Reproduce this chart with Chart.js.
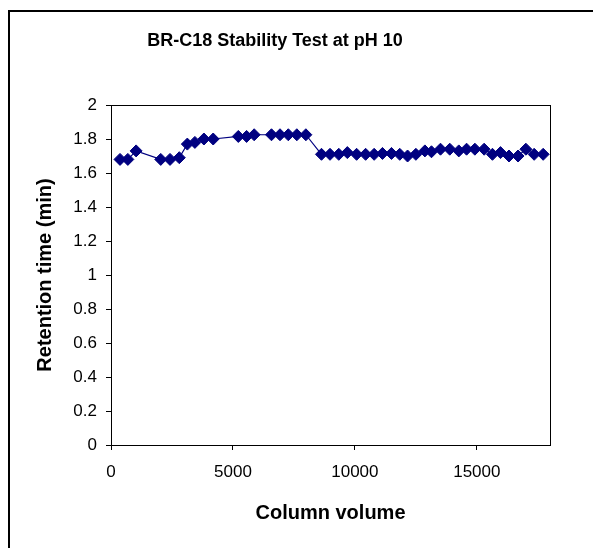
<!DOCTYPE html>
<html><head><meta charset="utf-8">
<script src="https://cdn.jsdelivr.net/npm/chart.js@4/dist/chart.umd.min.js"></script>
<style>html,body{margin:0;padding:0;background:#fff}#wrap{width:593px;height:548px;position:relative}</style>
</head><body><div id="wrap"><canvas id="c" width="593" height="548"></canvas></div>
<script>
const chartTitle = 'BR-C18 Stability Test at pH 10';
const xTitle = 'Column volume';
const yTitle = 'Retention time (min)';
const columnVolume = [370, 690, 1030, 2040, 2420, 2800, 3130, 3440, 3810, 4190,
  5220, 5560, 5870, 6580, 6930, 7270, 7620, 7990,
  8630, 8980, 9340, 9690, 10070, 10440, 10790, 11130, 11500, 11840, 12160, 12500, 12870,
  13140, 13510, 13890, 14260, 14580, 14920, 15300, 15640, 15970, 16320, 16690, 17010, 17350, 17720];
const retentionTime = [1.68, 1.68, 1.73, 1.68, 1.68, 1.69, 1.77, 1.78, 1.80, 1.80,
  1.815, 1.815, 1.825, 1.825, 1.825, 1.825, 1.825, 1.825,
  1.71, 1.71, 1.71, 1.72, 1.71, 1.71, 1.71, 1.715, 1.715, 1.71, 1.70, 1.71, 1.73,
  1.725, 1.74, 1.74, 1.73, 1.74, 1.74, 1.74, 1.71, 1.72, 1.70, 1.70, 1.74, 1.71, 1.71];
const xTicks = [0, 5000, 10000, 15000];
const yTicks = [0, 0.2, 0.4, 0.6, 0.8, 1, 1.2, 1.4, 1.6, 1.8, 2];

const points = columnVolume.map((v, i) => ({x: v, y: retentionTime[i]}));
const FONT = '"Liberation Sans", Arial, sans-serif';

const framePlugin = {
  id: 'frame',
  afterDraw(chart) {
    const ctx = chart.ctx, a = chart.chartArea;
    ctx.save();
    ctx.strokeStyle = '#000';
    ctx.lineWidth = 1;
    ctx.strokeRect(Math.round(a.left) + 0.5, Math.round(a.top) + 0.5, Math.round(a.right - a.left), Math.round(a.bottom - a.top));
    ctx.lineWidth = 2;
    ctx.strokeRect(9, 11, 700, 700);
    ctx.restore();
  }
};

new Chart(document.getElementById('c'), {
  type: 'scatter',
  data: {
    datasets: [{
      data: points,
      showLine: true,
      borderColor: '#000080',
      backgroundColor: '#000080',
      borderWidth: 1.2,
      pointStyle: 'rectRot',
      pointRadius: 6,
      pointBorderWidth: 1,
      pointBorderColor: '#000080',
      pointBackgroundColor: '#000080'
    }]
  },
  options: {
    responsive: false,
    animation: false,
    devicePixelRatio: 1,
    layout: {padding: {left: 0, right: 43, top: 0, bottom: 0}},
    plugins: {
      legend: {display: false},
      tooltip: {enabled: false},
      title: {
        display: true, text: chartTitle, color: '#000',
        font: {family: FONT, size: 18, weight: 'bold'},
        padding: {top: 30.2, bottom: 53.2}
      }
    },
    scales: {
      x: {
        type: 'linear', min: 0, max: 18000,
        afterFit: s => { s.height = 103; },
        afterBuildTicks: s => { s.ticks = xTicks.map(v => ({value: v})); },
        grid: {drawOnChartArea: false, drawTicks: true, tickLength: 5, color: '#000'},
        border: {display: true, color: '#000'},
        ticks: {color: '#000', font: {family: FONT, size: 17}, padding: 12, maxRotation: 0,
          callback: v => String(v)},
        title: {display: true, text: xTitle, color: '#000',
          font: {family: FONT, size: 20, weight: 'bold'}, padding: {top: 0, bottom: 23}}
      },
      y: {
        type: 'linear', min: 0, max: 2,
        afterFit: s => { s.width = 111; },
        afterBuildTicks: s => { s.ticks = yTicks.map(v => ({value: v})); },
        grid: {drawOnChartArea: false, drawTicks: true, tickLength: 5, color: '#000'},
        border: {display: true, color: '#000'},
        ticks: {color: '#000', font: {family: FONT, size: 17}, padding: 9,
          callback: v => String(Math.round(v * 10) / 10)},
        title: {display: true, text: yTitle, color: '#000',
          font: {family: FONT, size: 20, weight: 'bold'}, padding: {top: 33, bottom: 0}}
      }
    }
  },
  plugins: [framePlugin]
});
</script></body></html>
